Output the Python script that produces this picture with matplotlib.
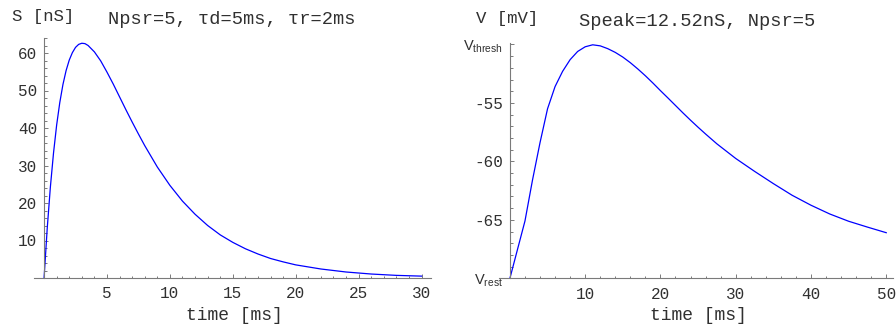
import matplotlib
matplotlib.use("Agg")
from matplotlib import pyplot as plt
from matplotlib.ticker import MultipleLocator, FixedLocator

plt.rcParams['mathtext.fontset'] = 'custom'
plt.rcParams['mathtext.rm'] = 'Liberation Sans'

mono = ['Liberation Mono', 'DejaVu Sans Mono']

# left panel: synaptic conductance
t_s = [0, 0.25, 0.5, 0.75, 1, 1.25, 1.5, 1.75, 2, 2.25, 2.5, 2.75, 3, 3.25,
       3.5, 4, 4.5, 5, 5.5, 6, 6.5, 7, 7.5, 8, 9, 10, 11, 12, 13, 14, 15, 16,
       17, 18, 19, 20, 22, 24, 26, 28, 30]
s_val = [0, 13.2, 24.2, 33.3, 40.8, 46.8, 51.6, 55.3, 58.1, 60.1, 61.5, 62.3,
         62.6, 62.5, 62.0, 60.3, 57.9, 54.9, 51.7, 48.3, 44.9, 41.6, 38.4,
         35.3, 29.6, 24.7, 20.5, 17.0, 14.0, 11.5, 9.5, 7.8, 6.4, 5.2, 4.3,
         3.5, 2.4, 1.6, 1.06, 0.7, 0.5]

# right panel: membrane potential
t_v = [0, 2, 3, 4, 5, 6, 7, 8, 9, 10, 11, 12, 13, 14, 15, 16, 17, 18, 19, 20,
       21, 22, 23, 24, 25, 26, 27.5, 30, 32.5, 35, 37.5, 40, 42.5, 45, 47.5, 50]
v_val = [-70, -65.1, -61.6, -58.4, -55.5, -53.6, -52.3, -51.3, -50.6, -50.2,
         -50.03, -50.12, -50.36, -50.68, -51.08, -51.56, -52.1, -52.68, -53.3,
         -53.95, -54.58, -55.22, -55.86, -56.48, -57.08, -57.66, -58.5, -59.75,
         -60.85, -61.9, -62.9, -63.75, -64.5, -65.12, -65.62, -66.1]

W, H = 896, 327
fig = plt.figure(figsize=(W / 100, H / 100), dpi=100)

axis_col = '#7a7a7a'
text_col = '#303030'


def style(ax):
    for s in ['top', 'right']:
        ax.spines[s].set_visible(False)
    for s in ['left', 'bottom']:
        ax.spines[s].set_color(axis_col)
        ax.spines[s].set_linewidth(0.8)
    ax.tick_params(which='both', direction='in', color=axis_col, width=0.7,
                   labelcolor=text_col)
    ax.tick_params(which='major', length=3.2)
    ax.tick_params(which='minor', length=1.8)
    ax.tick_params(axis='y', pad=5)
    ax.tick_params(axis='x', pad=6)
    for lab in ax.get_xticklabels() + ax.get_yticklabels():
        lab.set_family(mono)
        lab.set_fontsize(11.5)


# left
ax1 = fig.add_axes([34 / W, 1 - 278 / H, 397 / W, 240 / H])
ax1.plot(t_s, s_val, color='#0000ff', lw=0.9)
ax1.set_xlim(-0.8, 30.75)
ax1.set_ylim(0, 64)
ax1.spines['left'].set_position(('data', 0))
ax1.spines['bottom'].set_position(('data', 0))
ax1.xaxis.set_major_locator(FixedLocator([5, 10, 15, 20, 25, 30]))
ax1.xaxis.set_minor_locator(MultipleLocator(1))
ax1.yaxis.set_major_locator(FixedLocator([10, 20, 30, 40, 50, 60]))
ax1.yaxis.set_minor_locator(MultipleLocator(2))
style(ax1)

# right
ax2 = fig.add_axes([499 / W, 1 - 278.3 / H, 394 / W, 235.6 / H])
ax2.plot(t_v, v_val, color='#0000ff', lw=0.9)
ax2.set_xlim(-1.45, 50.9)
ax2.set_ylim(-70, -49.85)
ax2.spines['left'].set_position(('data', 0))
ax2.xaxis.set_major_locator(FixedLocator([10, 20, 30, 40, 50]))
ax2.xaxis.set_minor_locator(MultipleLocator(2))
ax2.yaxis.set_major_locator(FixedLocator([-70, -65, -60, -55, -50]))
ax2.yaxis.set_minor_locator(MultipleLocator(1))
ax2.set_yticklabels(['V$_{\\rm rest}$', '-65', '-60', '-55', 'V$_{\\rm thresh}$'])
style(ax2)
for lab in ax2.get_yticklabels():
    if lab.get_text().startswith('V'):
        lab.set_family(['Liberation Sans', 'DejaVu Sans'])
        lab.set_fontsize(10.5)

# labels and titles placed as in the reference
def ftext(x, y, s, size, ha='center'):
    fig.text(x / W, 1 - y / H, s, ha=ha, va='center', fontsize=size,
             family=mono, color=text_col)

ftext(12, 16, 'S [nS]', 12.5, ha='left')
ftext(232, 20, 'Npsr=5, τd=5ms, τr=2ms', 13.5)
ftext(234, 315, 'time [ms]', 13)
ftext(476, 18, 'V [mV]', 12.5, ha='left')
ftext(697, 22, 'Speak=12.52nS, Npsr=5', 13.5)
ftext(698, 315, 'time [ms]', 13)

fig.savefig('out.png', dpi=100)
